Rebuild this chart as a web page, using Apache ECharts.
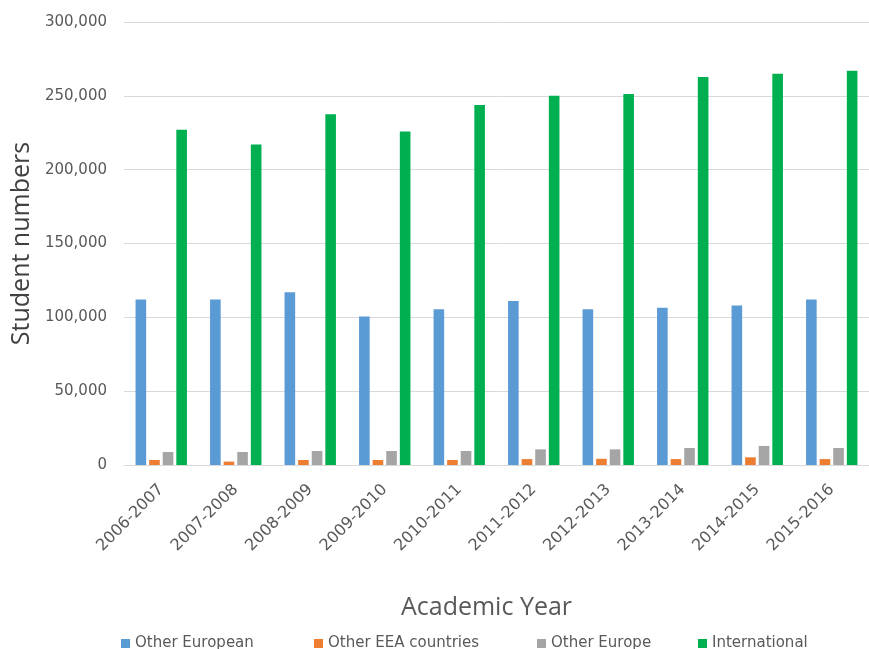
<!DOCTYPE html>
<html>
<head>
<meta charset="utf-8">
<script src="https://cdn.jsdelivr.net/npm/echarts@6/dist/echarts.min.js"></script>
<style>html,body{margin:0;padding:0;background:#fff}#c{width:869px;height:649px}</style>
</head>
<body>
<div id="c"></div>
<script>
const categories = ['2006-2007','2007-2008','2008-2009','2009-2010','2010-2011','2011-2012','2012-2013','2013-2014','2014-2015','2015-2016'];
const otherEuropean = [112000,112000,117000,100500,105500,111000,105500,106500,108000,112000];
const otherEEA = [3400,2300,3400,3400,3400,4000,4200,4000,5200,4000];
const otherEurope = [8800,8800,9500,9500,9500,10600,10600,11500,12900,11500];
const international = [227000,217000,237500,225800,243800,250000,251200,262800,265000,267000];
const seriesNames = ['Other European','Other EEA countries','Other Europe','International'];
const colors = ['#5B9BD5','#ED7D31','#A5A5A5','#00B050'];
const legendLefts = [116, 309, 532, 693];

const font = "'DejaVu Sans', sans-serif";
const nameFont = "'Open Sans', 'Noto Sans', sans-serif";
const chart = echarts.init(document.getElementById('c'));
const datas = [otherEuropean, otherEEA, otherEurope, international];
chart.setOption({
  animation: false,
  textStyle: {fontFamily: font},
  grid: {left: 124, top: 22, width: 752, bottom: 184, containLabel: false},
  legend: seriesNames.map((n, i) => ({
    data: [n], left: legendLefts[i], top: 631, itemWidth: 9, itemHeight: 9, itemGap: 6,
    icon: 'rect', textStyle: {fontSize: 15, color: '#595959', fontFamily: font}
  })),
  xAxis: {
    type: 'category', data: categories,
    name: 'Academic Year', nameLocation: 'middle', nameGap: 130,
    nameTextStyle: {fontSize: 25, color: '#595959', fontFamily: nameFont, padding: [0, 20, 0, 0]},
    axisLine: {lineStyle: {color: '#D9D9D9'}}, axisTick: {show: false},
    axisLabel: {rotate: 45, fontSize: 16, color: '#595959', margin: 22, interval: 0}
  },
  yAxis: {
    type: 'value', min: 0, max: 300000, interval: 50000,
    name: 'Student numbers', nameLocation: 'middle', nameGap: 88,
    nameTextStyle: {fontSize: 25, color: '#404040', fontFamily: nameFont},
    axisLine: {show: false}, axisTick: {show: false},
    splitLine: {lineStyle: {color: '#D9D9D9'}},
    axisLabel: {fontSize: 15, color: '#595959', margin: 17,
      formatter: v => v.toLocaleString('en-US')}
  },
  series: seriesNames.map((n, i) => ({
    name: n, type: 'bar', data: datas[i], barGap: '28%', barCategoryGap: '31%',
    itemStyle: {color: colors[i]}
  }))
});
</script>
</body>
</html>
